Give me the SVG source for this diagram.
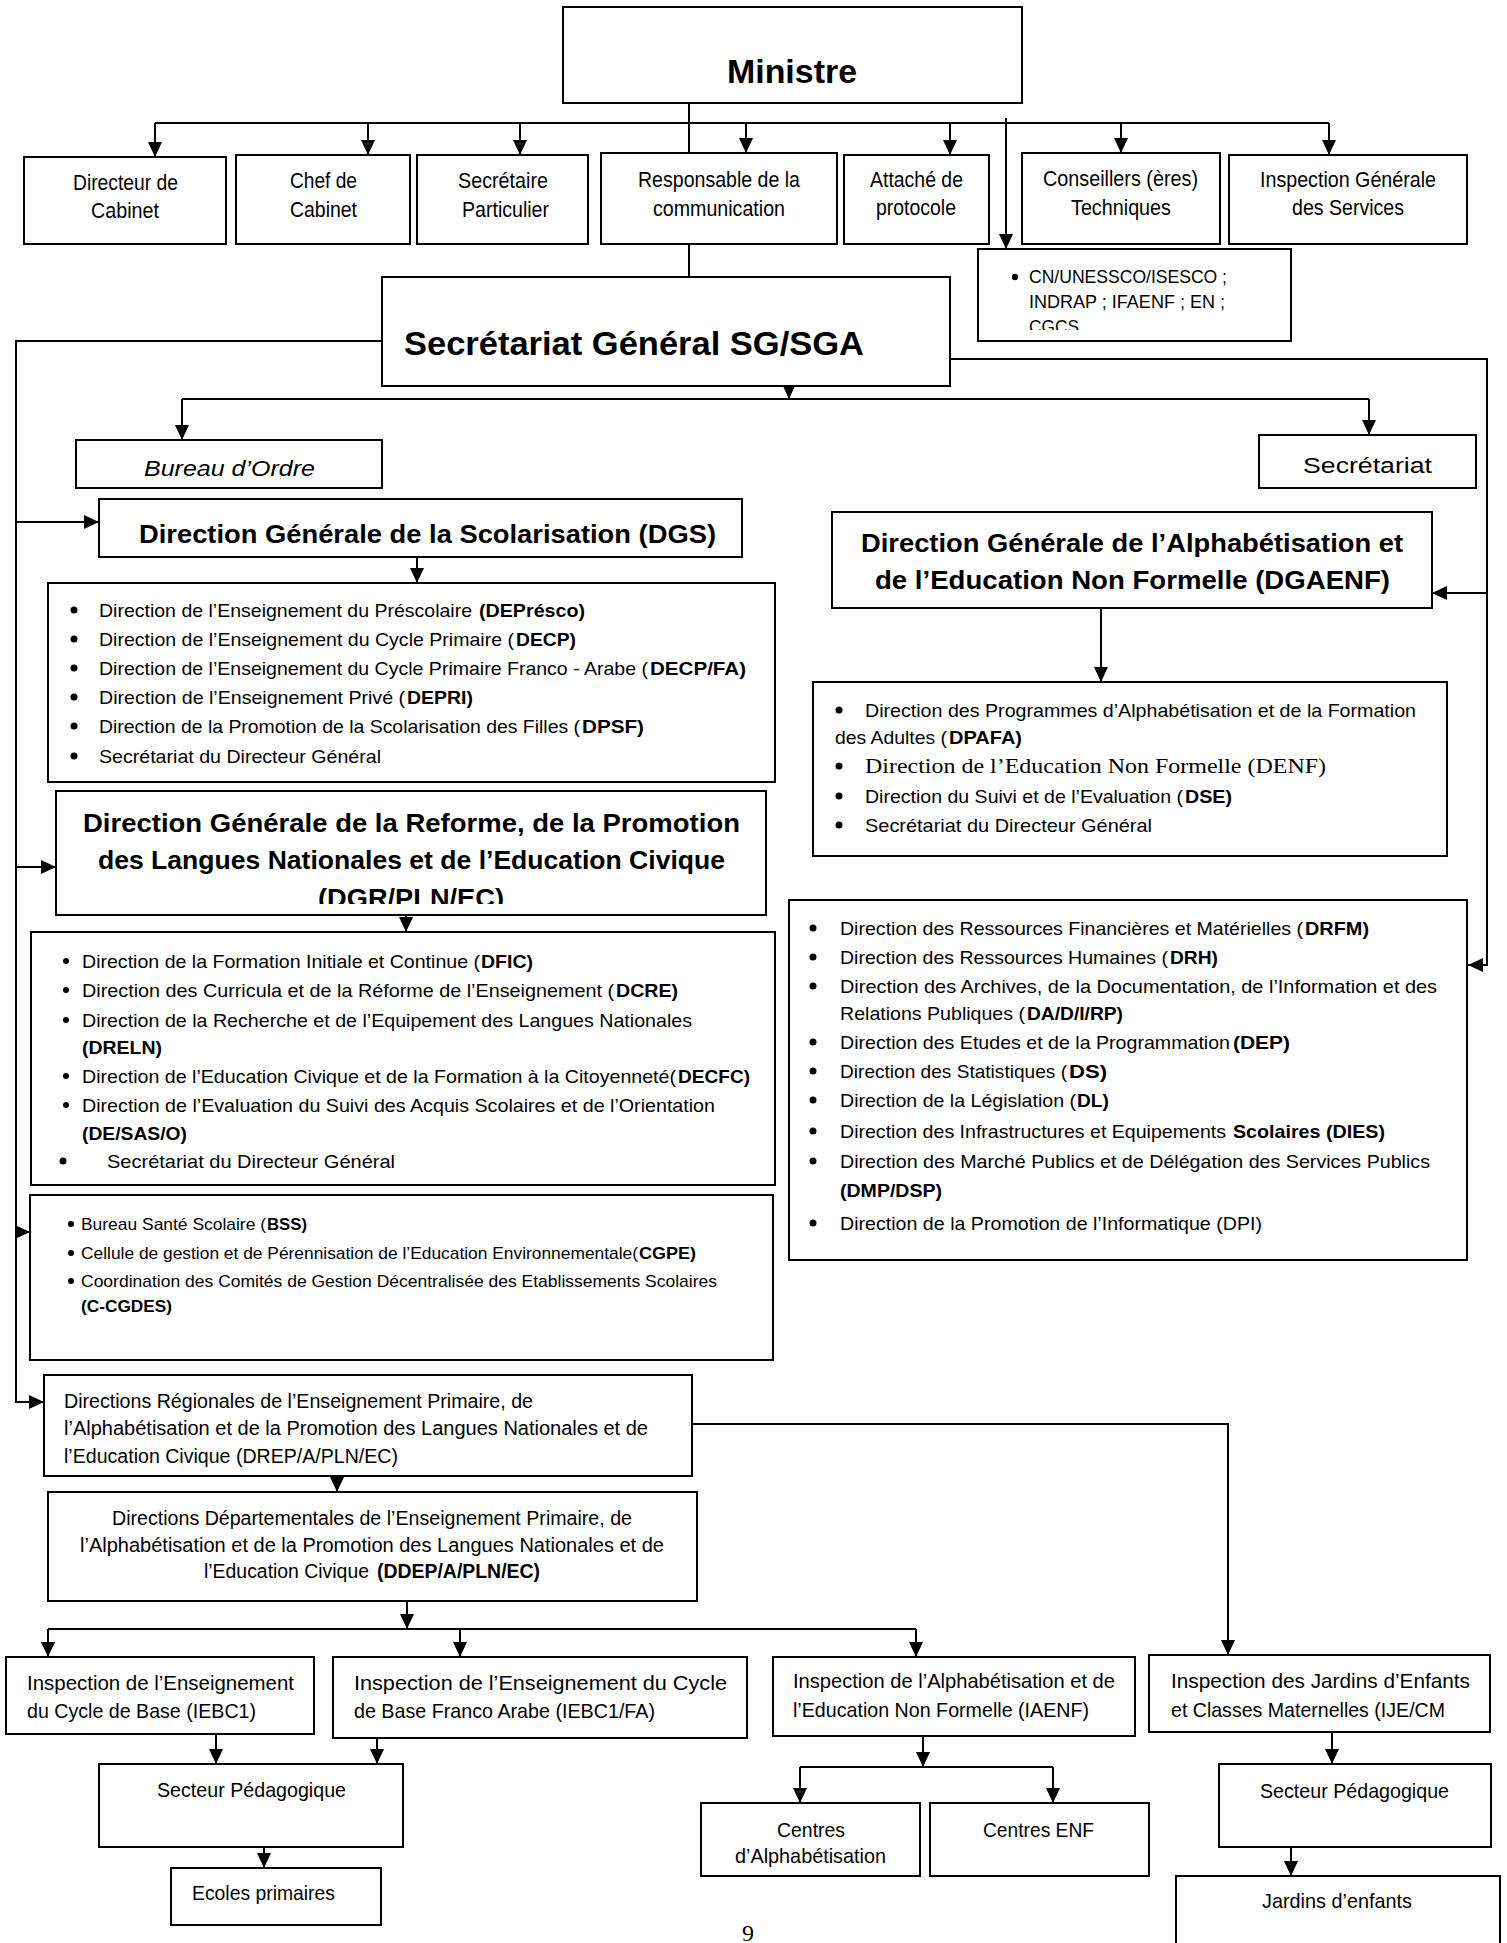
<svg xmlns="http://www.w3.org/2000/svg" width="1507" height="1943" viewBox="0 0 1507 1943">
<style>
.box{fill:#fff;stroke:#000;stroke-width:2}
.ln{fill:none;stroke:#000;stroke-width:2}
.ar{marker-end:url(#ah)}
text{font-family:"Liberation Sans",Arial,sans-serif;fill:#000}
.s22{font-size:22px}
.s21{font-size:21px}
.s20{font-size:20px}
.L{font-size:19px}
.s17{font-size:17px}
.h{font-size:26px;font-weight:bold}
.b{font-weight:bold}
.it{font-style:italic}
.serif{font-family:"Liberation Serif","Times New Roman",serif}
.bul{fill:#000}
</style>
<defs>
<marker id="ah" viewBox="0 0 15 14" refX="15" refY="7" markerWidth="15" markerHeight="14" markerUnits="userSpaceOnUse" orient="auto">
<path d="M0,0 L15,7 L0,14 z" fill="#000"/>
</marker>
<clipPath id="clipDGR"><rect x="56" y="791" width="710" height="113"/></clipPath>
<clipPath id="clipCN"><rect x="978" y="249" width="313" height="81"/></clipPath>
</defs>

<g id="connectors">
<path class="ln" d="M689,103 V153"/>
<path class="ln" d="M155,123 H1329"/>
<path class="ln ar" d="M155,123 V157"/>
<path class="ln ar" d="M368,123 V155"/>
<path class="ln ar" d="M520,123 V155"/>
<path class="ln ar" d="M746,123 V153"/>
<path class="ln ar" d="M950,123 V155"/>
<path class="ln ar" d="M1121,123 V153"/>
<path class="ln ar" d="M1329,123 V155"/>
<path class="ln ar" d="M1006,118 V249"/>
<path class="ln" d="M689,244 V277"/>
<path class="ln ar" d="M382,341 H16 V1402 H44"/>
<path class="ln ar" d="M16,522 H99"/>
<path class="ln ar" d="M16,867 H56"/>
<path class="ln ar" d="M16,1232 H30"/>
<path class="ln ar" d="M950,359 H1487 V965 H1468"/>
<path class="ln ar" d="M1487,593 H1432"/>
<path class="ln ar" d="M789,386 V399"/>
<path class="ln" d="M182,399 H1369"/>
<path class="ln ar" d="M182,399 V440"/>
<path class="ln ar" d="M1369,399 V435"/>
<path class="ln ar" d="M417,557 V583"/>
<path class="ln ar" d="M1101,608 V682"/>
<path class="ln ar" d="M406,900 V932"/>
<path class="ln ar" d="M337,1465 V1492"/>
<path class="ln ar" d="M692,1424 H1228 V1655"/>
<path class="ln ar" d="M407,1601 V1629"/>
<path class="ln" d="M48,1629 H916"/>
<path class="ln ar" d="M48,1629 V1657"/>
<path class="ln ar" d="M460,1629 V1657"/>
<path class="ln ar" d="M916,1629 V1657"/>
<path class="ln ar" d="M216,1734 V1764"/>
<path class="ln ar" d="M377,1738 V1764"/>
<path class="ln ar" d="M264,1847 V1868"/>
<path class="ln ar" d="M923,1736 V1767"/>
<path class="ln" d="M800,1767 H1053"/>
<path class="ln ar" d="M800,1767 V1803"/>
<path class="ln ar" d="M1053,1767 V1803"/>
<path class="ln ar" d="M1332,1732 V1764"/>
<path class="ln ar" d="M1291,1847 V1876"/>
</g>

<g id="ministre">
<rect class="box" x="563" y="7" width="459" height="96"/>
<text class="b" x="727" y="83" font-size="33" textLength="130" lengthAdjust="spacingAndGlyphs">Ministre</text>
</g>

<g id="directeur-cabinet">
<rect class="box" x="24" y="157" width="202" height="87"/>
<text class="s22" x="73" y="190" textLength="105" lengthAdjust="spacingAndGlyphs">Directeur de</text>
<text class="s22" x="91" y="218" textLength="68" lengthAdjust="spacingAndGlyphs">Cabinet</text>
</g>

<g id="chef-cabinet">
<rect class="box" x="236" y="155" width="174" height="89"/>
<text class="s22" x="290" y="188" textLength="67" lengthAdjust="spacingAndGlyphs">Chef de</text>
<text class="s22" x="290" y="217" textLength="67" lengthAdjust="spacingAndGlyphs">Cabinet</text>
</g>

<g id="secretaire-particulier">
<rect class="box" x="417" y="155" width="171" height="89"/>
<text class="s22" x="458" y="188" textLength="90" lengthAdjust="spacingAndGlyphs">Secrétaire</text>
<text class="s22" x="462" y="217" textLength="87" lengthAdjust="spacingAndGlyphs">Particulier</text>
</g>

<g id="responsable-communication">
<rect class="box" x="601" y="153" width="236" height="91"/>
<text class="s22" x="638" y="187" textLength="162" lengthAdjust="spacingAndGlyphs">Responsable de la</text>
<text class="s22" x="653" y="216" textLength="132" lengthAdjust="spacingAndGlyphs">communication</text>
</g>

<g id="attache-protocole">
<rect class="box" x="844" y="155" width="145" height="89"/>
<text class="s22" x="870" y="187" textLength="93" lengthAdjust="spacingAndGlyphs">Attaché de</text>
<text class="s22" x="876" y="215" textLength="80" lengthAdjust="spacingAndGlyphs">protocole</text>
</g>

<g id="conseillers">
<rect class="box" x="1022" y="153" width="198" height="91"/>
<text class="s22" x="1043" y="186" textLength="155" lengthAdjust="spacingAndGlyphs">Conseillers (ères)</text>
<text class="s22" x="1071" y="215" textLength="100" lengthAdjust="spacingAndGlyphs">Techniques</text>
</g>

<g id="inspection-generale">
<rect class="box" x="1229" y="155" width="238" height="89"/>
<text class="s22" x="1260" y="187" textLength="176" lengthAdjust="spacingAndGlyphs">Inspection Générale</text>
<text class="s22" x="1292" y="215" textLength="112" lengthAdjust="spacingAndGlyphs">des Services</text>
</g>

<g id="cn-unesco">
<rect class="box" x="978" y="249" width="313" height="92"/>
<circle class="bul" cx="1015" cy="277" r="3.2"/>
<text x="1029" y="283" font-size="18" textLength="198" lengthAdjust="spacingAndGlyphs">CN/UNESSCO/ISESCO ;</text>
<text x="1029" y="308" font-size="18" textLength="196" lengthAdjust="spacingAndGlyphs">INDRAP ;  IFAENF ; EN ;</text>
<g clip-path="url(#clipCN)"><text x="1029" y="333" font-size="18" textLength="50" lengthAdjust="spacingAndGlyphs">CGCS</text></g>
</g>

<g id="secretariat-general">
<rect class="box" x="382" y="277" width="568" height="109"/>
<text class="b" x="404" y="355" font-size="34" textLength="460" lengthAdjust="spacingAndGlyphs">Secrétariat Général SG/SGA</text>
</g>

<g id="bureau-ordre">
<rect class="box" x="76" y="440" width="306" height="48"/>
<text class="s22 it" x="144" y="476" textLength="171" lengthAdjust="spacingAndGlyphs">Bureau d’Ordre</text>
</g>

<g id="secretariat">
<rect class="box" x="1259" y="435" width="217" height="53"/>
<text class="s22" x="1303" y="473" textLength="129" lengthAdjust="spacingAndGlyphs">Secrétariat</text>
</g>

<g id="dgs">
<rect class="box" x="99" y="499" width="643" height="58"/>
<text class="h" x="139" y="543" textLength="577" lengthAdjust="spacingAndGlyphs">Direction Générale de la Scolarisation (DGS)</text>
</g>

<g id="dgs-list">
<rect class="box" x="48" y="583" width="727" height="199"/>
<circle class="bul" cx="74" cy="610" r="3.5"/>
<circle class="bul" cx="74" cy="639" r="3.5"/>
<circle class="bul" cx="74" cy="668" r="3.5"/>
<circle class="bul" cx="74" cy="697" r="3.5"/>
<circle class="bul" cx="74" cy="726" r="3.5"/>
<circle class="bul" cx="74" cy="756" r="3.5"/>
<text class="L" x="99" y="617" textLength="373" lengthAdjust="spacingAndGlyphs">Direction de l’Enseignement du Préscolaire</text>
<text class="L b" x="479" y="617" textLength="106" lengthAdjust="spacingAndGlyphs">(DEPrésco)</text>
<text class="L" x="99" y="646" textLength="415" lengthAdjust="spacingAndGlyphs">Direction de l’Enseignement du Cycle Primaire (</text>
<text class="L b" x="516" y="646" textLength="60" lengthAdjust="spacingAndGlyphs">DECP)</text>
<text class="L" x="99" y="675" textLength="549" lengthAdjust="spacingAndGlyphs">Direction de l’Enseignement du Cycle Primaire Franco - Arabe (</text>
<text class="L b" x="650" y="675" textLength="96" lengthAdjust="spacingAndGlyphs">DECP/FA)</text>
<text class="L" x="99" y="704" textLength="306" lengthAdjust="spacingAndGlyphs">Direction de l’Enseignement Privé (</text>
<text class="L b" x="407" y="704" textLength="66" lengthAdjust="spacingAndGlyphs">DEPRI)</text>
<text class="L" x="99" y="733" textLength="481" lengthAdjust="spacingAndGlyphs">Direction de la Promotion de la Scolarisation des Filles (</text>
<text class="L b" x="582" y="733" textLength="62" lengthAdjust="spacingAndGlyphs">DPSF)</text>
<text class="L" x="99" y="763" textLength="282" lengthAdjust="spacingAndGlyphs">Secrétariat du Directeur Général</text>
</g>

<g id="dgaenf">
<rect class="box" x="832" y="512" width="600" height="96"/>
<text class="h" x="861" y="552" textLength="542" lengthAdjust="spacingAndGlyphs">Direction Générale de l’Alphabétisation et</text>
<text class="h" x="875" y="589" textLength="515" lengthAdjust="spacingAndGlyphs">de l’Education  Non Formelle (DGAENF)</text>
</g>

<g id="dgaenf-list">
<rect class="box" x="813" y="682" width="634" height="174"/>
<circle class="bul" cx="839" cy="710" r="3.5"/>
<circle class="bul" cx="839" cy="766" r="3.5"/>
<circle class="bul" cx="839" cy="796" r="3.5"/>
<circle class="bul" cx="839" cy="825" r="3.5"/>
<text class="L" x="865" y="717" textLength="551" lengthAdjust="spacingAndGlyphs">Direction des Programmes d’Alphabétisation et de la Formation</text>
<text class="L" x="835" y="744" textLength="112" lengthAdjust="spacingAndGlyphs">des Adultes (</text>
<text class="L b" x="949" y="744" textLength="73" lengthAdjust="spacingAndGlyphs">DPAFA)</text>
<text class="serif" x="865" y="773" font-size="22" textLength="461" lengthAdjust="spacingAndGlyphs">Direction de l’Education Non Formelle (DENF)</text>
<text class="L" x="865" y="803" textLength="318" lengthAdjust="spacingAndGlyphs">Direction du Suivi et de l’Evaluation (</text>
<text class="L b" x="1185" y="803" textLength="47" lengthAdjust="spacingAndGlyphs">DSE)</text>
<text class="L" x="865" y="832" textLength="287" lengthAdjust="spacingAndGlyphs">Secrétariat du Directeur  Général</text>
</g>

<g id="dgr">
<rect class="box" x="56" y="791" width="710" height="124"/>
<text class="h" x="83" y="832" textLength="657" lengthAdjust="spacingAndGlyphs">Direction Générale de la Reforme, de la Promotion</text>
<text class="h" x="98" y="869" textLength="627" lengthAdjust="spacingAndGlyphs">des Langues Nationales et de l’Education Civique</text>
<g clip-path="url(#clipDGR)"><text class="h" x="318" y="907" textLength="186" lengthAdjust="spacingAndGlyphs">(DGR/PLN/EC)</text></g>
</g>

<g id="dgr-list">
<rect class="box" x="31" y="932" width="744" height="253"/>
<circle class="bul" cx="66" cy="961" r="3"/>
<circle class="bul" cx="66" cy="990" r="3"/>
<circle class="bul" cx="66" cy="1020" r="3"/>
<circle class="bul" cx="66" cy="1076" r="3"/>
<circle class="bul" cx="66" cy="1105" r="3"/>
<circle class="bul" cx="63" cy="1161" r="3.5"/>
<text class="L" x="82" y="968" textLength="398" lengthAdjust="spacingAndGlyphs">Direction de la Formation Initiale et Continue (</text>
<text class="L b" x="481" y="968" textLength="52" lengthAdjust="spacingAndGlyphs">DFIC)</text>
<text class="L" x="82" y="997" textLength="532" lengthAdjust="spacingAndGlyphs">Direction des Curricula et de la Réforme de l’Enseignement  (</text>
<text class="L b" x="616" y="997" textLength="62" lengthAdjust="spacingAndGlyphs">DCRE)</text>
<text class="L" x="82" y="1027" textLength="610" lengthAdjust="spacingAndGlyphs">Direction de la Recherche et de l’Equipement des Langues Nationales</text>
<text class="L b" x="82" y="1054" textLength="80" lengthAdjust="spacingAndGlyphs">(DRELN)</text>
<text class="L" x="82" y="1083" textLength="594" lengthAdjust="spacingAndGlyphs">Direction de l’Education Civique et de la Formation à la Citoyenneté(</text>
<text class="L b" x="678" y="1083" textLength="72" lengthAdjust="spacingAndGlyphs">DECFC)</text>
<text class="L" x="82" y="1112" textLength="633" lengthAdjust="spacingAndGlyphs">Direction de l’Evaluation du Suivi des Acquis Scolaires et de l’Orientation</text>
<text class="L b" x="82" y="1140" textLength="105" lengthAdjust="spacingAndGlyphs">(DE/SAS/O)</text>
<text class="L" x="107" y="1168" textLength="288" lengthAdjust="spacingAndGlyphs">Secrétariat du Directeur  Général</text>
</g>

<g id="services-list">
<rect class="box" x="789" y="900" width="678" height="360"/>
<circle class="bul" cx="813" cy="928" r="3.5"/>
<circle class="bul" cx="813" cy="957" r="3.5"/>
<circle class="bul" cx="813" cy="986" r="3.5"/>
<circle class="bul" cx="813" cy="1042" r="3.5"/>
<circle class="bul" cx="813" cy="1071" r="3.5"/>
<circle class="bul" cx="813" cy="1100" r="3.5"/>
<circle class="bul" cx="813" cy="1131" r="3.5"/>
<circle class="bul" cx="813" cy="1161" r="3.5"/>
<circle class="bul" cx="813" cy="1223" r="3.5"/>
<text class="L" x="840" y="935" textLength="463" lengthAdjust="spacingAndGlyphs">Direction des Ressources Financières et Matérielles (</text>
<text class="L b" x="1305" y="935" textLength="64" lengthAdjust="spacingAndGlyphs">DRFM)</text>
<text class="L" x="840" y="964" textLength="328" lengthAdjust="spacingAndGlyphs">Direction des Ressources Humaines (</text>
<text class="L b" x="1170" y="964" textLength="48" lengthAdjust="spacingAndGlyphs">DRH)</text>
<text class="L" x="840" y="993" textLength="597" lengthAdjust="spacingAndGlyphs">Direction des Archives, de la Documentation, de l’Information  et des</text>
<text class="L" x="840" y="1020" textLength="185" lengthAdjust="spacingAndGlyphs">Relations Publiques (</text>
<text class="L b" x="1027" y="1020" textLength="96" lengthAdjust="spacingAndGlyphs">DA/D/I/RP)</text>
<text class="L" x="840" y="1049" textLength="390" lengthAdjust="spacingAndGlyphs">Direction des Etudes et de la Programmation</text>
<text class="L b" x="1233" y="1049" textLength="57" lengthAdjust="spacingAndGlyphs">(DEP)</text>
<text class="L" x="840" y="1078" textLength="227" lengthAdjust="spacingAndGlyphs">Direction des Statistiques (</text>
<text class="L b" x="1069" y="1078" textLength="38" lengthAdjust="spacingAndGlyphs">DS)</text>
<text class="L" x="840" y="1107" textLength="236" lengthAdjust="spacingAndGlyphs">Direction de la Législation (</text>
<text class="L b" x="1077" y="1107" textLength="32" lengthAdjust="spacingAndGlyphs">DL)</text>
<text class="L" x="840" y="1138" textLength="386" lengthAdjust="spacingAndGlyphs">Direction des Infrastructures et Equipements</text>
<text class="L b" x="1233" y="1138" textLength="152" lengthAdjust="spacingAndGlyphs">Scolaires (DIES)</text>
<text class="L" x="840" y="1168" textLength="590" lengthAdjust="spacingAndGlyphs">Direction des Marché Publics et de Délégation des Services Publics</text>
<text class="L b" x="840" y="1197" textLength="102" lengthAdjust="spacingAndGlyphs">(DMP/DSP)</text>
<text class="L" x="840" y="1230" textLength="422" lengthAdjust="spacingAndGlyphs">Direction de la Promotion de l’Informatique (DPI)</text>
</g>

<g id="bss-list">
<rect class="box" x="30" y="1195" width="743" height="165"/>
<circle class="bul" cx="71" cy="1224" r="3"/>
<circle class="bul" cx="71" cy="1253" r="3"/>
<circle class="bul" cx="71" cy="1281" r="3"/>
<text class="s17" x="81" y="1230" textLength="185" lengthAdjust="spacingAndGlyphs">Bureau Santé Scolaire (</text>
<text class="s17 b" x="267" y="1230" textLength="40" lengthAdjust="spacingAndGlyphs">BSS)</text>
<text class="s17" x="81" y="1259" textLength="557" lengthAdjust="spacingAndGlyphs">Cellule de gestion et de Pérennisation de l’Education Environnementale(</text>
<text class="s17 b" x="639" y="1259" textLength="57" lengthAdjust="spacingAndGlyphs">CGPE)</text>
<text class="s17" x="81" y="1287" textLength="636" lengthAdjust="spacingAndGlyphs">Coordination des Comités de Gestion Décentralisée des Etablissements Scolaires</text>
<text class="s17 b" x="81" y="1312" textLength="91" lengthAdjust="spacingAndGlyphs">(C-CGDES)</text>
</g>

<g id="drep">
<rect class="box" x="44" y="1375" width="648" height="101"/>
<text class="s20" x="64" y="1408" textLength="469" lengthAdjust="spacingAndGlyphs">Directions Régionales de l’Enseignement Primaire, de</text>
<text class="s20" x="64" y="1435" textLength="584" lengthAdjust="spacingAndGlyphs">l’Alphabétisation  et de la Promotion des Langues Nationales  et de</text>
<text class="s20" x="64" y="1463" textLength="334" lengthAdjust="spacingAndGlyphs">l’Education Civique (DREP/A/PLN/EC)</text>
</g>

<g id="ddep">
<rect class="box" x="48" y="1492" width="649" height="109"/>
<text class="s20" x="112" y="1525" textLength="520" lengthAdjust="spacingAndGlyphs">Directions Départementales de l’Enseignement Primaire, de</text>
<text class="s20" x="80" y="1552" textLength="584" lengthAdjust="spacingAndGlyphs">l’Alphabétisation  et de la Promotion des Langues Nationales  et de</text>
<text class="s20" x="204" y="1578" textLength="165" lengthAdjust="spacingAndGlyphs">l’Education Civique</text>
<text class="s20 b" x="377" y="1578" textLength="163" lengthAdjust="spacingAndGlyphs">(DDEP/A/PLN/EC)</text>
</g>

<g id="iebc1">
<rect class="box" x="6" y="1657" width="308" height="77"/>
<text class="s21" x="27" y="1690" textLength="267" lengthAdjust="spacingAndGlyphs">Inspection  de  l’Enseignement</text>
<text class="s21" x="27" y="1718" textLength="229" lengthAdjust="spacingAndGlyphs">du Cycle de Base (IEBC1)</text>
</g>

<g id="iebc1-fa">
<rect class="box" x="333" y="1657" width="414" height="81"/>
<text class="s21" x="354" y="1690" textLength="373" lengthAdjust="spacingAndGlyphs">Inspection  de  l’Enseignement    du  Cycle</text>
<text class="s21" x="354" y="1718" textLength="301" lengthAdjust="spacingAndGlyphs">de Base Franco Arabe (IEBC1/FA)</text>
</g>

<g id="iaenf">
<rect class="box" x="773" y="1657" width="362" height="79"/>
<text class="s21" x="793" y="1688" textLength="322" lengthAdjust="spacingAndGlyphs">Inspection de l’Alphabétisation et de</text>
<text class="s21" x="793" y="1717" textLength="296" lengthAdjust="spacingAndGlyphs">l’Education Non Formelle (IAENF)</text>
</g>

<g id="ije-cm">
<rect class="box" x="1149" y="1655" width="341" height="77"/>
<text class="s21" x="1171" y="1688" textLength="299" lengthAdjust="spacingAndGlyphs">Inspection  des  Jardins  d’Enfants</text>
<text class="s21" x="1171" y="1717" textLength="274" lengthAdjust="spacingAndGlyphs">et Classes Maternelles (IJE/CM</text>
</g>

<g id="secteur-pedagogique-1">
<rect class="box" x="99" y="1764" width="304" height="83"/>
<text class="s21" x="157" y="1797" textLength="189" lengthAdjust="spacingAndGlyphs">Secteur Pédagogique</text>
</g>

<g id="ecoles-primaires">
<rect class="box" x="171" y="1868" width="210" height="57"/>
<text class="s21" x="192" y="1900" textLength="143" lengthAdjust="spacingAndGlyphs">Ecoles primaires</text>
</g>

<g id="centres-alpha">
<rect class="box" x="701" y="1803" width="219" height="73"/>
<text class="s21" x="777" y="1837" textLength="68" lengthAdjust="spacingAndGlyphs">Centres</text>
<text class="s21" x="735" y="1863" textLength="151" lengthAdjust="spacingAndGlyphs">d’Alphabétisation</text>
</g>

<g id="centres-enf">
<rect class="box" x="930" y="1803" width="219" height="73"/>
<text class="s21" x="983" y="1837" textLength="111" lengthAdjust="spacingAndGlyphs">Centres ENF</text>
</g>

<g id="secteur-pedagogique-2">
<rect class="box" x="1219" y="1764" width="272" height="83"/>
<text class="s21" x="1260" y="1798" textLength="189" lengthAdjust="spacingAndGlyphs">Secteur Pédagogique</text>
</g>

<g id="jardins-enfants">
<rect class="box" x="1176" y="1876" width="324" height="80"/>
<text class="s21" x="1262" y="1908" textLength="150" lengthAdjust="spacingAndGlyphs">Jardins d’enfants</text>
</g>

<text class="serif" x="742" y="1941" font-size="24">9</text>
</svg>
